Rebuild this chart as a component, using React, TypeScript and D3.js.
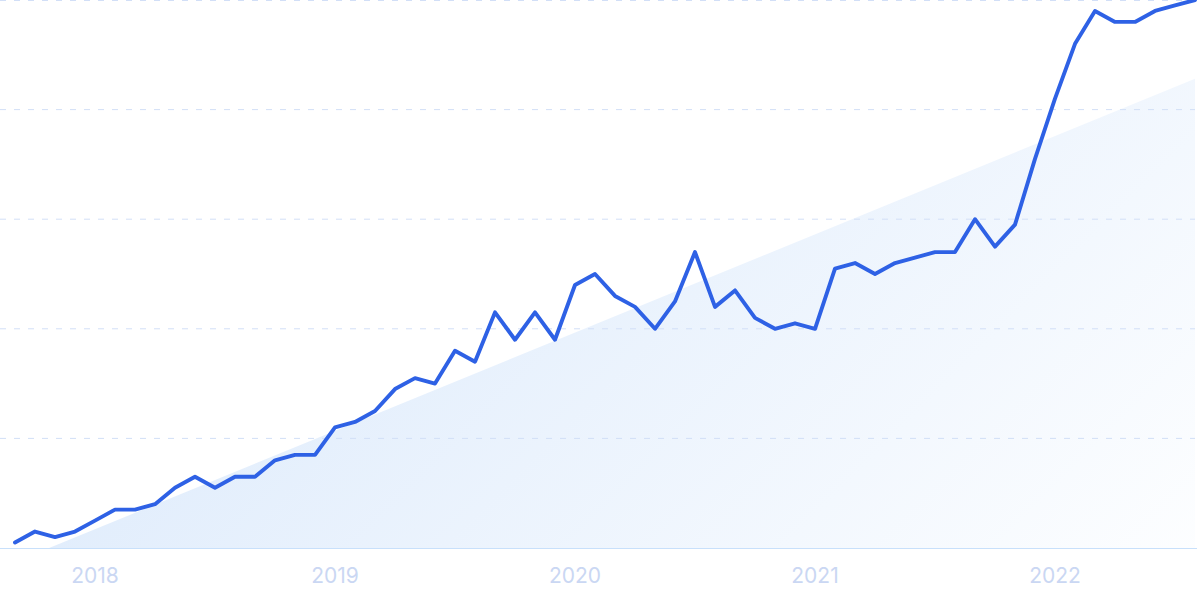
import React from "react";
import * as d3 from "d3";

// Monthly values, Sep 2017 .. Aug 2022 (relative interest, 0-100)
const startYear = 2017;
const startMonth = 8; // 0-based: September
const values: number[] = [
  1, 3, 2, 3, 5, 7, 7, 8, 11, 13,
  11, 13, 13, 16, 17, 17, 22, 23, 25, 29,
  31, 30, 36, 34, 43, 38, 43, 38, 48, 50,
  46, 44, 40, 45, 54, 44, 47, 42, 40, 41,
  40, 51, 52, 50, 52, 53, 54, 54, 60, 55,
  59, 71, 82, 92, 98, 96, 96, 98, 99, 100,
];
const yearLabels: number[] = [2018, 2019, 2020, 2021, 2022];
const gridValues: number[] = [0, 20, 40, 60, 80, 100];

const W = 1200;
const H = 600;

export default function App() {
  const n = values.length;
  const x = d3.scaleLinear().domain([0, n - 1]).range([15, 1195]);
  const y = d3.scaleLinear().domain([0, 100]).range([548, 0]);

  // least-squares trend of the series
  const idx = d3.range(n);
  const mx = d3.mean(idx) as number;
  const my = d3.mean(values) as number;
  const sxy = d3.sum(idx, (i) => (i - mx) * (values[i] - my));
  const sxx = d3.sum(idx, (i) => (i - mx) * (i - mx));
  const slope = sxy / sxx;
  const trend = (i: number) => my + slope * (i - mx);

  const trendPts = [0, n - 1];
  const area = d3
    .area<number>()
    .x((i) => x(i))
    .y0(() => y(0))
    .y1((i) => y(trend(i)));

  const line = d3
    .line<number>()
    .x((_, i) => x(i))
    .y((v) => y(v));

  const monthIndexOfYear = (yr: number) => (yr - startYear) * 12 - startMonth;

  return (
    <svg
      width={W}
      height={H}
      style={{ position: "absolute", left: 0, top: 0, background: "#ffffff" }}
    >
      <defs>
        <linearGradient
          id="trendFill"
          gradientUnits="userSpaceOnUse"
          x1={280}
          y1={280}
          x2={880}
          y2={880}
        >
          <stop offset="0" stopColor="#e1edfc" />
          <stop offset="1" stopColor="#fdfeff" />
        </linearGradient>
        <clipPath id="plotClip">
          <rect x={0} y={0} width={1197} height={y(0)} />
        </clipPath>
      </defs>

      <path d={area(trendPts) || ""} fill="url(#trendFill)" clipPath="url(#plotClip)" />

      {gridValues
        .filter((g) => g !== 0)
        .map((g) => (
          <line
            key={g}
            x1={0}
            x2={1195}
            y1={Math.max(y(g), 0.5)}
            y2={Math.max(y(g), 0.5)}
            stroke="#d2dff7"
            strokeWidth={1}
            strokeDasharray="6 8"
          />
        ))}

      <line x1={0} x2={1197} y1={y(0) + 0.5} y2={y(0) + 0.5} stroke="#c8e0fb" strokeWidth={1} />

      <path
        d={line(values) || ""}
        fill="none"
        stroke="#2e61e5"
        strokeWidth={3.9}
        strokeLinejoin="round"
        strokeLinecap="round"
      />

      {yearLabels.map((yr) => (
        <text
          key={yr}
          x={x(monthIndexOfYear(yr))}
          y={583}
          textAnchor="middle"
          fontFamily="Inter, 'Noto Sans', sans-serif"
          fontSize={21}
          fill="#cad7f3"
        >
          {yr}
        </text>
      ))}
    </svg>
  );
}
